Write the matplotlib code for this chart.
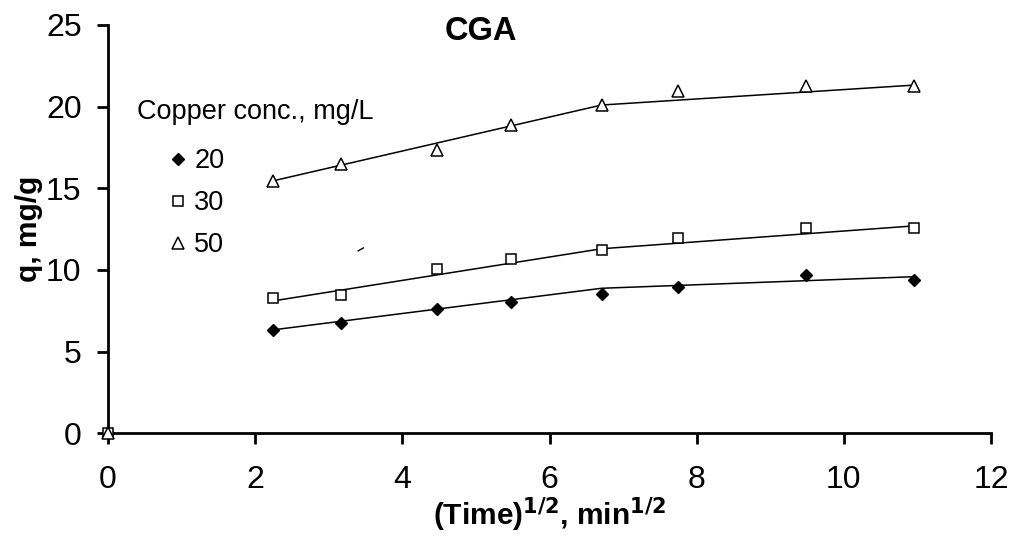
import matplotlib
matplotlib.use("Agg")
import matplotlib.pyplot as plt
import numpy as np

plt.rcParams['font.family'] = ['Liberation Sans', 'DejaVu Sans']

# sqrt(time) values
x_pts = [0, 2.236, 3.162, 4.472, 5.477, 6.708, 7.746, 9.487, 10.954]
q20 = [0, 6.33, 6.74, 7.59, 8.06, 8.53, 8.98, 9.69, 9.39]
q30 = [0, 8.26, 8.47, 10.04, 10.69, 11.22, 11.94, 12.57, 12.57]
q50 = [0, 15.45, 16.5, 17.35, 18.9, 20.1, 20.98, 21.25, 21.27]

# fitted two-segment lines
fit_x = [2.236, 6.708, 10.954]
fit20 = [6.33, 8.88, 9.59]
fit30 = [8.1, 11.3, 12.7]
fit50 = [15.45, 20.1, 21.32]

# small stray mark in the original
stray_x = [3.40, 3.47]
stray_y = [11.17, 11.35]

labels = ['20', '30', '50']
legend_title = 'Copper conc., mg/L'

fig = plt.figure(figsize=(10.13, 5.45), dpi=100)
ax = fig.add_axes([108/1013, 1-433.3/545, (991-108)/1013, (433.3-25)/545])

ax.plot(fit_x, fit20, color='black', lw=1.1, zorder=2)
ax.plot(fit_x, fit30, color='black', lw=1.1, zorder=2)
ax.plot(fit_x, fit50, color='black', lw=1.1, zorder=2)
ax.plot(stray_x, stray_y, color='black', lw=1.0)

h1, = ax.plot(x_pts, q20, linestyle='none', marker='D', ms=6, mfc='black', mec='black', label=labels[0], zorder=3, clip_on=False)
h2, = ax.plot(x_pts, q30, linestyle='none', marker='s', ms=6.5, mfc='white', mec='black', mew=1.1, label=labels[1], zorder=3, clip_on=False)
h3, = ax.plot(x_pts, q50, linestyle='none', marker='^', ms=8, mfc='white', mec='black', mew=1.1, label=labels[2], zorder=3, clip_on=False)

ax.set_xlim(0, 12)
ax.set_ylim(0, 25)
ax.set_xticks(range(0, 13, 2))
ax.set_yticks(range(0, 26, 5))
for s in ['top', 'right']:
    ax.spines[s].set_visible(False)
for s in ['left', 'bottom']:
    ax.spines[s].set_linewidth(2.0)
ax.tick_params(axis='both', direction='out', length=8, width=2.0, labelsize=23, pad=11)
ax.tick_params(axis='x', pad=15)

ax.set_xlabel(r'(Time)$^{\mathbf{1/2}}$, min$^{\mathbf{1/2}}$', fontsize=21.5, fontweight='bold', labelpad=0)
ax.set_ylabel('q, mg/g', fontsize=21.5, fontweight='bold', labelpad=2)

fig.text(481/1013, 1-31/545, 'CGA', fontsize=23.5, fontweight='bold', ha='center', va='center')
fig.text(137/1013, 1-112/545, legend_title, fontsize=19.5, ha='left', va='center')

leg = ax.legend(handles=[h1, h2, h3], loc='upper left', bbox_to_anchor=(170/1013, 1-148/545),
                bbox_transform=fig.transFigure, frameon=False, fontsize=19.5,
                handlelength=0.6, handletextpad=0.3, labelspacing=0.6, borderpad=0, borderaxespad=0,
                numpoints=1)

fig.savefig('out.png', dpi=100)
